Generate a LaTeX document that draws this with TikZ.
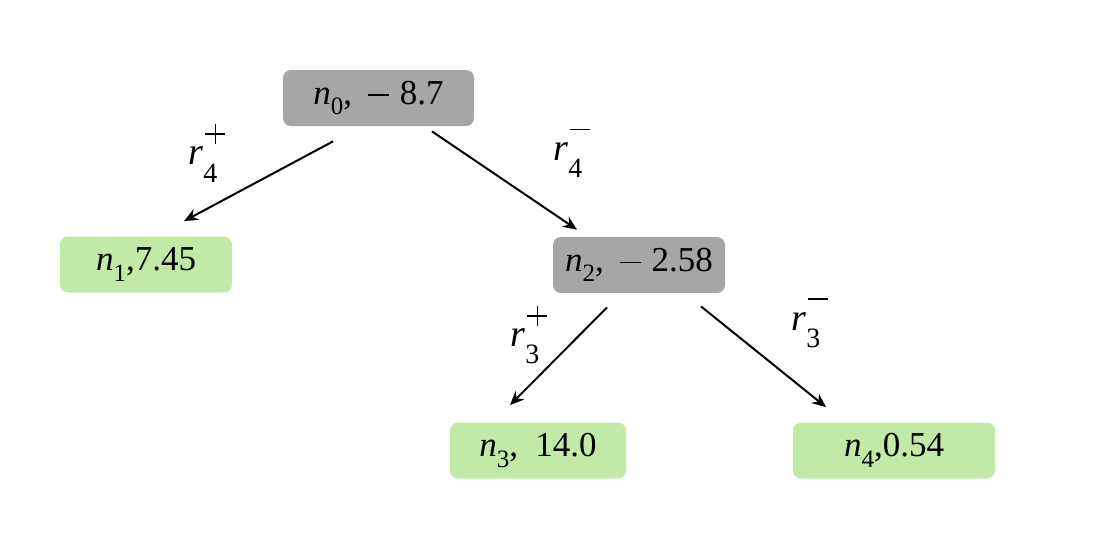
\documentclass[tikz,border=0pt]{standalone}
\usepackage{fontspec}
\setmainfont{Liberation Serif}
\usetikzlibrary{arrows.meta}
\definecolor{nodegray}{HTML}{A6A6A6}
\definecolor{leafgreen}{HTML}{C0EAA5}
\newcommand{\nsub}[1]{\textit{n}\raisebox{-0.3em}{\fontsize{12.5}{12}\selectfont #1}}
\newcommand{\mminus}{\rule[0.23em]{0.62em}{0.05em}}
\newcommand{\supplus}{\makebox[10pt][l]{\rule[4.5pt]{10pt}{0.9pt}\hspace{-5.45pt}\rule{0.9pt}{10pt}}}
\newcommand{\supminus}{\makebox[10pt][l]{\rule[4.5pt]{10pt}{0.9pt}}}
\newcommand{\rlab}[2]{\textit{r}\makebox[0pt][l]{\hspace{1pt}\raisebox{0.55em}{#2}}\raisebox{-0.45em}{\fontsize{14}{14}\selectfont #1}}
\begin{document}
\begin{tikzpicture}[x=0.5pt,y=-0.5pt,
  box/.style={rounded corners=4pt, inner sep=0pt, minimum height=28pt, font=\fontsize{17.5}{20}\selectfont},
  inner/.style={box, fill=nodegray},
  leaf/.style={box, fill=leafgreen},
  edge/.style={line width=1pt, -{Stealth[length=7pt,width=6pt]}},
  lab/.style={font=\fontsize{19}{20}\selectfont, inner sep=0pt}]
\useasboundingbox (0,0) rectangle (1106,542);
\node[inner, minimum width=95.5pt] (n0) at (378.5,98) {\nsub{0},\hspace{0.45em}\mminus\hspace{0.3em}8.7};
\node[leaf, minimum width=86pt] (n1) at (146,264.5) {\nsub{1},7.45};
\node[inner, minimum width=86pt] (n2) at (639,265) {\nsub{2},\hspace{0.45em}\mminus\hspace{0.3em}2.58};
\node[leaf, minimum width=88pt] (n3) at (538,450.5) {\nsub{3},\ \ 14.0};
\node[leaf, minimum width=101pt] (n4) at (894,450.5) {\nsub{4},0.54};
\draw[edge] ([xshift=-22.75pt,yshift=-7.5pt]n0.south) -- ([xshift=19pt,yshift=7.5pt]n1.north);
\draw[edge] ([xshift=26.75pt,yshift=-2.5pt]n0.south) -- ([xshift=-31pt,yshift=3.5pt]n2.north);
\draw[edge] ([xshift=-16pt,yshift=-7pt]n2.south) -- ([xshift=-14pt,yshift=8.5pt]n3.north);
\draw[edge] ([xshift=31pt,yshift=-6.5pt]n2.south) -- ([xshift=-34pt,yshift=7.5pt]n4.north);
\node[lab] (l1) at (203,153) {\rlab{4}{\supplus}};
\node[lab] (l2) at (568,153) {\rlab{4}{\supminus}};
\node[lab] (l3) at (525,335) {\rlab{3}{\supplus}};
\node[lab] (l4) at (806,323) {\rlab{3}{\supminus}};
\end{tikzpicture}
\end{document}
